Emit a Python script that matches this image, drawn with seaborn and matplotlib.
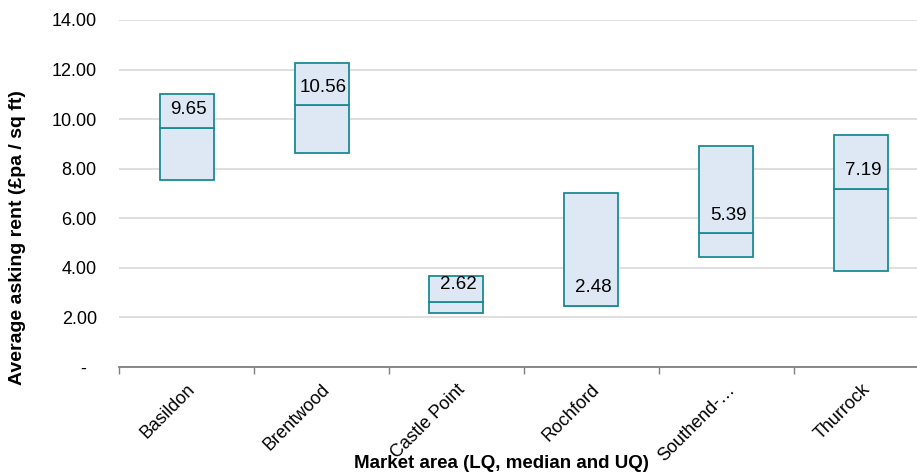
import matplotlib
matplotlib.use("Agg")
import matplotlib.pyplot as plt
import seaborn as sns
import pandas as pd

areas = ["Basildon", "Brentwood", "Castle Point", "Rochford", "Southend-\u2026", "Thurrock"]
lq = [7.55, 8.63, 2.19, 2.46, 4.45, 3.88]
median = [9.65, 10.56, 2.62, 2.48, 5.39, 7.19]
uq = [11.02, 12.27, 3.67, 7.02, 8.90, 9.36]

y_ticks = [0, 2, 4, 6, 8, 10, 12, 14]
y_tick_labels = ["-  ", "2.00", "4.00", "6.00", "8.00", "10.00", "12.00", "14.00"]

FILL = "#dde8f4"
EDGE = "#1b8a94"

df = pd.DataFrame({"area": areas, "lq": lq, "median": median, "uq": uq})
df["lower"] = df["median"] - df["lq"]
df["upper"] = df["uq"] - df["median"]

sns.set_style("white")
plt.rcParams["font.family"] = ["Liberation Sans", "DejaVu Sans"]

fig = plt.figure(figsize=(9.17, 4.75), dpi=100)
ax = fig.add_axes([119 / 917, 1 - 367 / 475, 810 / 917, 347 / 475])

# lower segment (LQ -> median) and upper segment (median -> UQ)
sns.barplot(data=df, x="area", y="lower", bottom=df["lq"].to_numpy(), order=areas,
            color=FILL, edgecolor=EDGE, linewidth=1.3, width=0.4, saturation=1, ax=ax)
sns.barplot(data=df, x="area", y="upper", bottom=df["median"].to_numpy(), order=areas,
            color=FILL, edgecolor=EDGE, linewidth=1.3, width=0.4, saturation=1, ax=ax)

for i, m in enumerate(median):
    ax.annotate(f"{m:.2f}", (i, m), xytext=(1.5, 13), textcoords="offset points",
                ha="center", va="center", fontsize=13.5, color="black")

ax.set_xlim(-0.5, len(areas) - 0.5)
ax.set_ylim(0, 14)
ax.set_yticks(y_ticks)
ax.set_yticklabels(y_tick_labels, fontsize=13, color="black")
ax.yaxis.grid(True, color="#d9d9d9", linewidth=1.2)
ax.set_axisbelow(True)
ax.tick_params(axis="y", length=0, pad=16)

ax.set_xticks(range(len(areas)))
ax.set_xticklabels(areas, rotation=45, ha="right", rotation_mode="anchor",
                   fontsize=13, color="black")
ax.tick_params(axis="x", which="major", length=0, pad=10)
ax.set_xticks([i - 0.5 for i in range(len(areas) + 1)], minor=True)
ax.tick_params(axis="x", which="minor", bottom=True, length=5, width=1,
               color="#7f7f7f", direction="out")

for side in ["top", "right", "left"]:
    ax.spines[side].set_visible(False)
ax.spines["bottom"].set_color("#7f7f7f")
ax.spines["bottom"].set_linewidth(1.3)

ax.set_xlabel("Market area (LQ, median and UQ)", fontsize=13.5, fontweight="bold", color="black")
ax.xaxis.label.set_va("center")
ax.xaxis.set_label_coords((501 - 119) / 810, (367 - 463) / 347)
ax.set_ylabel("Average asking rent (\u00a3pa / sq ft)", fontsize=14, fontweight="bold", color="black")
ax.yaxis.label.set_va("center")
ax.yaxis.set_label_coords((17 - 119) / 810, (367 - 238) / 347)

fig.savefig("out.png", dpi=100)
